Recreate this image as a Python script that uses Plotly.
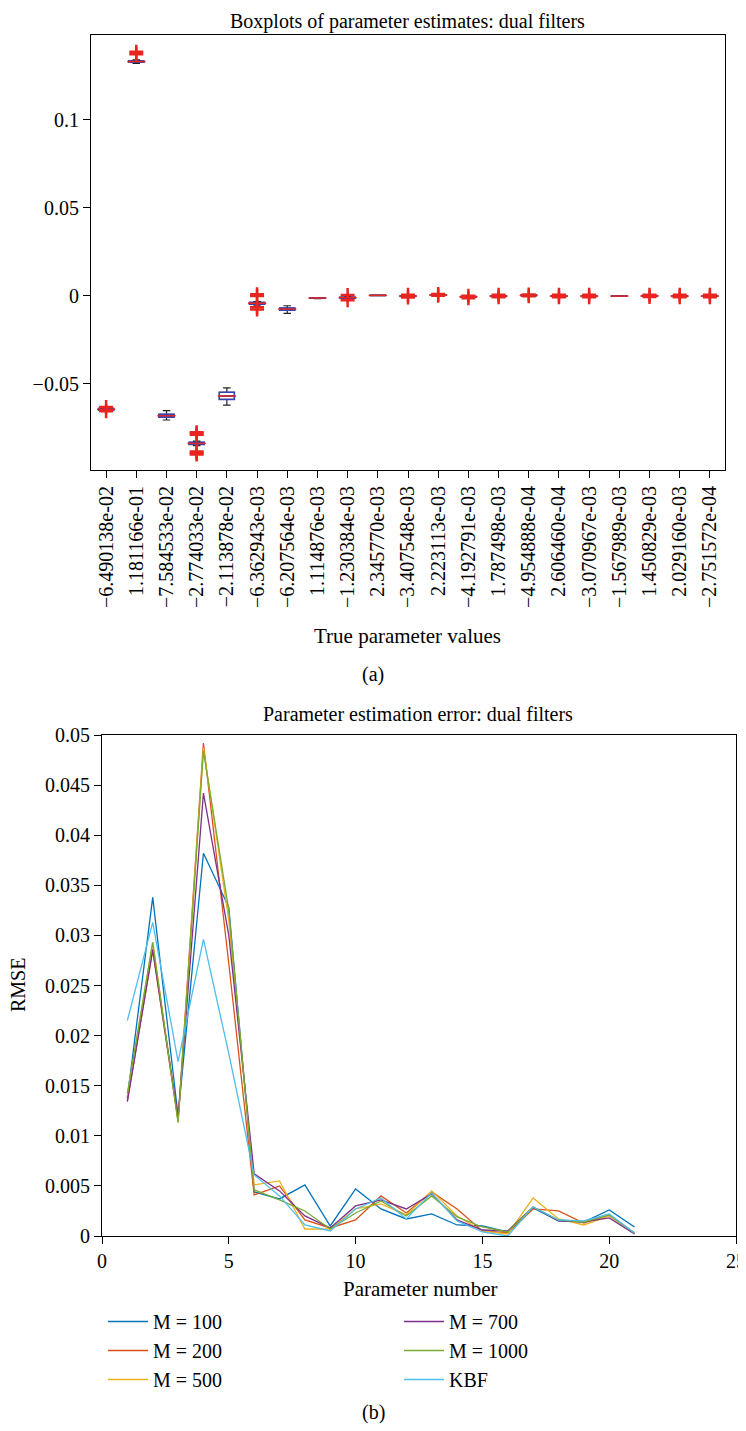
import plotly.graph_objects as go

# ---------------- data: panel (a) ----------------
true_param_labels = [
    "\u22126.490138e-02", "1.181166e-01", "\u22127.584533e-02", "\u22122.774033e-02",
    "\u22122.113878e-02", "\u22126.362943e-03", "\u22126.207564e-03", "1.114876e-03",
    "\u22121.230384e-03", "2.345770e-03", "\u22123.407548e-03", "2.223113e-03",
    "\u22124.192791e-03", "1.787498e-03", "\u22124.954888e-04", "2.606460e-04",
    "\u22123.070967e-03", "\u22121.567989e-03", "1.450829e-03", "2.029160e-03",
    "\u22122.751572e-04",
]
param_pos = list(range(1, 22))
box_median = [-0.0645, 0.1330, -0.0682, -0.0839, -0.0570, -0.0043, -0.0076, -0.0013,
              -0.0011, 0.0002, -0.0002, 0.0004, -0.0006, -0.0002, 0.0002, -0.0002,
              -0.0002, -0.0002, -0.0001, -0.0002, -0.0002]
box_q1 = [-0.0650, 0.1326, -0.0690, -0.0845, -0.0589, -0.0048, -0.0082, -0.0015,
          -0.0014, 0.0001, -0.0004, 0.0002, -0.0008, -0.0004, 0.0000, -0.0004,
          -0.0004, -0.0003, -0.0003, -0.0004, -0.0003]
box_q3 = [-0.0640, 0.1334, -0.0674, -0.0833, -0.0549, -0.0038, -0.0070, -0.0011,
          -0.0008, 0.0003, 0.0000, 0.0006, -0.0004, 0.0000, 0.0004, 0.0000,
          0.0000, -0.0001, 0.0001, 0.0000, -0.0001]
box_lo = [-0.0656, 0.1320, -0.0706, -0.0852, -0.0621, -0.0053, -0.0100, -0.0016,
          -0.0017, 0.0000, -0.0006, 0.0000, -0.0010, -0.0006, -0.0002, -0.0006,
          -0.0006, -0.0004, -0.0005, -0.0006, -0.0005]
box_hi = [-0.0634, 0.1340, -0.0653, -0.0826, -0.0523, -0.0033, -0.0057, -0.0010,
          -0.0005, 0.0004, 0.0002, 0.0008, -0.0002, 0.0002, 0.0006, 0.0002,
          0.0002, 0.0000, 0.0003, 0.0002, 0.0001]
outlier_param = [1, 1, 2, 2, 4, 4, 4, 4, 4, 4, 6, 6, 6, 6,
                 9, 9, 11, 11, 12, 12, 13, 13, 14, 14, 15, 15, 16, 16,
                 17, 17, 19, 19, 20, 20, 21, 21]
outlier_value = [-0.0632, -0.0656, 0.1386, 0.1372,
                 -0.0775, -0.0782, -0.0790, -0.0885, -0.0893, -0.0902,
                 0.0008, -0.0001, -0.0065, -0.0078,
                 0.0004, -0.0026, 0.0005, -0.0010, 0.0010, 0.0000, 0.0000, -0.0014,
                 0.0005, -0.0009, 0.0007, -0.0003, 0.0005, -0.0009,
                 0.0005, -0.0009, 0.0006, -0.0007, 0.0005, -0.0009, 0.0005, -0.0009]

# ---------------- data: panel (b) ----------------
param_number = list(range(1, 22))
rmse_m100 = [0.0138, 0.0338, 0.0120, 0.0382, 0.0328, 0.0044, 0.0037, 0.0051, 0.0010, 0.0047,
             0.0027, 0.0017, 0.0022, 0.0011, 0.0010, 0.0004, 0.0028, 0.0015, 0.0014, 0.0026, 0.0009]
rmse_m200 = [0.0135, 0.0285, 0.0115, 0.0492, 0.0272, 0.0041, 0.0050, 0.0016, 0.0008, 0.0016,
             0.0040, 0.0023, 0.0044, 0.0027, 0.0005, 0.0003, 0.0027, 0.0025, 0.0013, 0.0021, 0.0003]
rmse_m500 = [0.0140, 0.0293, 0.0114, 0.0487, 0.0315, 0.0051, 0.0055, 0.0007, 0.0007, 0.0027,
             0.0032, 0.0021, 0.0045, 0.0020, 0.0005, 0.0002, 0.0038, 0.0017, 0.0011, 0.0020, 0.0003]
rmse_m700 = [0.0134, 0.0286, 0.0118, 0.0442, 0.0300, 0.0062, 0.0045, 0.0020, 0.0008, 0.0030,
             0.0036, 0.0027, 0.0042, 0.0016, 0.0006, 0.0005, 0.0029, 0.0015, 0.0014, 0.0018, 0.0002]
rmse_m1000 = [0.0142, 0.0293, 0.0113, 0.0484, 0.0325, 0.0046, 0.0036, 0.0025, 0.0007, 0.0023,
              0.0035, 0.0020, 0.0040, 0.0019, 0.0009, 0.0004, 0.0029, 0.0016, 0.0014, 0.0021, 0.0003]
rmse_kbf = [0.0215, 0.0313, 0.0174, 0.0296, 0.0182, 0.0061, 0.0040, 0.0011, 0.0005, 0.0027,
            0.0038, 0.0017, 0.0043, 0.0015, 0.0004, 0.0000, 0.0029, 0.0016, 0.0015, 0.0022, 0.0003]
series_names = ["M = 100", "M = 200", "M = 500", "M = 700", "M = 1000", "KBF"]
series_colors = ["#0072BD", "#D95319", "#EDB120", "#7E2F8E", "#77AC30", "#4DBEEE"]
series_values = [rmse_m100, rmse_m200, rmse_m500, rmse_m700, rmse_m1000, rmse_kbf]

# ---------------- figure ----------------
# the page body has an 8px default margin on every side, so the figure is
# sized to fit inside the window without overflowing
OFF = 8
W, H = 746 - OFF, 1431 - 2 * OFF
FONT = "Liberation Serif, Times New Roman, serif"
fig = go.Figure()

def px_x(p):
    return (p - OFF) / W

def px_y(p):
    return 1 - (p - OFF) / H

# black whiskers (full box, underneath)
fig.add_trace(go.Box(
    x=param_pos, q1=box_q1, median=box_median, q3=box_q3,
    lowerfence=box_lo, upperfence=box_hi,
    width=0.5, whiskerwidth=0.5, boxpoints=False,
    line=dict(color="#222222", width=1.2), fillcolor="rgba(0,0,0,0)",
    showlegend=False, xaxis="x", yaxis="y", hoverinfo="skip"))
# blue boxes on top
fig.add_trace(go.Box(
    x=param_pos, q1=box_q1, median=box_median, q3=box_q3,
    lowerfence=box_q1, upperfence=box_q3,
    width=0.5, whiskerwidth=0, boxpoints=False,
    line=dict(color="#3344bb", width=1.5), fillcolor="rgba(0,0,0,0)",
    showlegend=False, xaxis="x", yaxis="y"))
# red medians
fig.add_trace(go.Scatter(
    x=param_pos, y=box_median, mode="markers",
    marker=dict(symbol="line-ew", size=13, line=dict(color="#e8251f", width=1.5)),
    showlegend=False, xaxis="x", yaxis="y"))
# red outliers
fig.add_trace(go.Scatter(
    x=outlier_param, y=outlier_value, mode="markers",
    marker=dict(symbol="cross-thin", size=10, line=dict(color="#e8251f", width=2.5)),
    showlegend=False, xaxis="x", yaxis="y"))

for i, (name, col, vals) in enumerate(zip(series_names, series_colors, series_values)):
    fig.add_trace(go.Scatter(
        x=param_number, y=vals, mode="lines", name=name,
        line=dict(color=col, width=1.3),
        xaxis="x2", yaxis="y2",
        legend="legend" if i < 3 else "legend2"))

axis_common = dict(showline=True, linecolor="black", linewidth=1.2, mirror=True,
                   ticks="outside", ticklen=7, tickcolor="black", showgrid=False,
                   zeroline=False, automargin=False,
                   tickfont=dict(family=FONT, size=20, color="black"))

fig.update_layout(
    width=W, height=H, margin=dict(l=0, r=0, t=0, b=0, autoexpand=False),
    paper_bgcolor="white", plot_bgcolor="white",
    boxmode="overlay",
    font=dict(family=FONT, size=20, color="black"),
    xaxis=dict(domain=[px_x(91), px_x(725)], range=[0.5, 21.5], anchor="y",
               tickmode="array", tickvals=param_pos, ticktext=true_param_labels,
               tickangle=-90, **axis_common),
    yaxis=dict(domain=[px_y(470), px_y(35)], range=[-0.099, 0.1481], anchor="x",
               tickmode="array", tickvals=[-0.05, 0, 0.05, 0.1],
               ticktext=["\u22120.05", "0", "0.05", "0.1"], **axis_common),
    xaxis2=dict(domain=[px_x(102), px_x(736)], range=[0, 25], anchor="y2",
                tickmode="array", tickvals=[0, 5, 10, 15, 20, 25], **axis_common),
    yaxis2=dict(domain=[px_y(1236), px_y(735)], range=[0, 0.05], anchor="x2",
                tickmode="array",
                tickvals=[0, 0.005, 0.01, 0.015, 0.02, 0.025, 0.03, 0.035, 0.04, 0.045, 0.05],
                ticktext=["0", "0.005", "0.01", "0.015", "0.02", "0.025", "0.03",
                          "0.035", "0.04", "0.045", "0.05"], **axis_common),
    legend=dict(x=px_x(103), y=px_y(1302), xanchor="left", yanchor="top",
                orientation="v", bgcolor="rgba(0,0,0,0)", itemwidth=40,
                font=dict(family=FONT, size=20, color="black")),
    legend2=dict(x=px_x(399), y=px_y(1302), xanchor="left", yanchor="top",
                 orientation="v", bgcolor="rgba(0,0,0,0)", itemwidth=40,
                 font=dict(family=FONT, size=20, color="black")),
)

def ann(text, x, y, size=20, angle=0, yanchor="middle"):
    fig.add_annotation(text=text, x=px_x(x), y=px_y(y), xref="paper", yref="paper",
                       showarrow=False, xanchor="center", yanchor=yanchor,
                       textangle=angle, font=dict(family=FONT, size=size, color="black"))

ann("Boxplots of parameter estimates: dual filters", 408, 8, 20, yanchor="top")
ann("True parameter values", 408, 636, 21)
ann("(a)", 373, 675, 20)
ann("Parameter estimation error: dual filters", 418, 714, 20)
ann("Parameter number", 420, 1289, 21)
ann("RMSE", 18, 985, 20, -90)
ann("(b)", 373, 1412, 20)

fig.write_html("out.html")
